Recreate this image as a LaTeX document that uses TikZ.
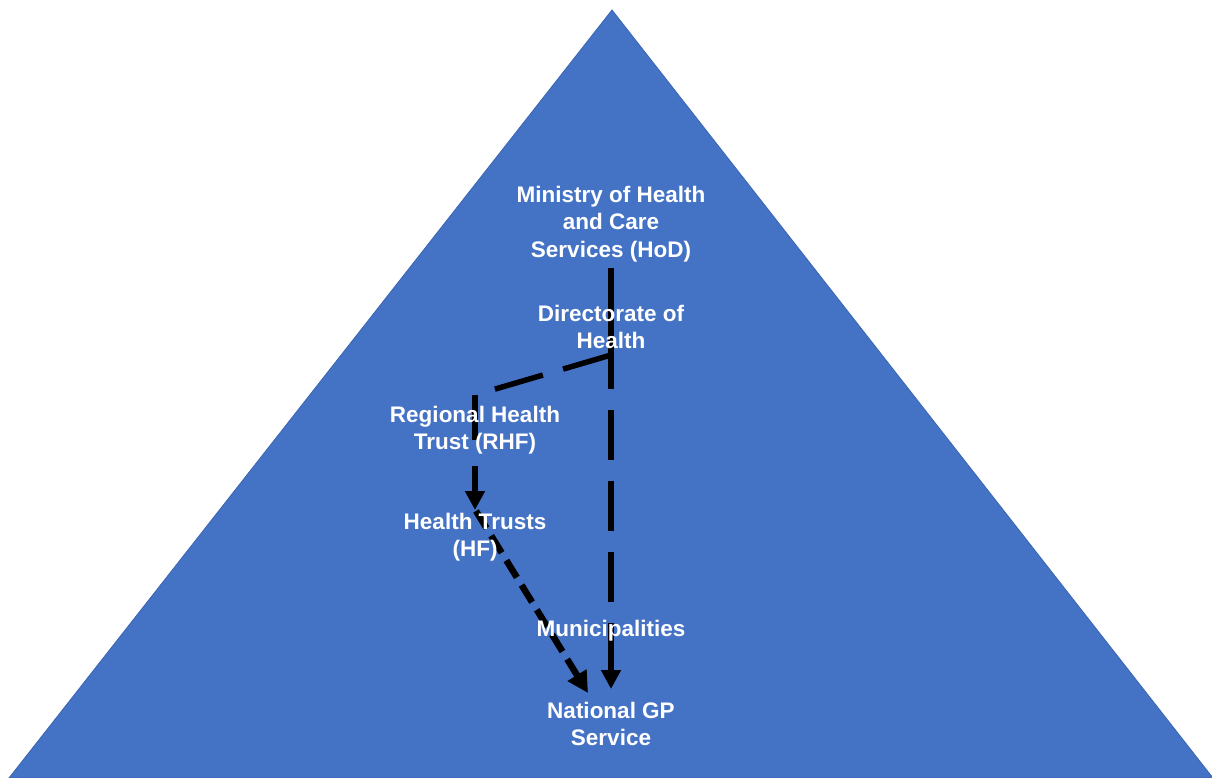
\documentclass[tikz,border=0pt]{standalone}
\usepackage{fontspec}
\setmainfont{Liberation Sans}
\usetikzlibrary{arrows.meta}
\definecolor{triblue}{HTML}{4472C4}
\definecolor{triedge}{HTML}{3B66B4}
\pgfdeclarelayer{bg}
\pgfdeclarelayer{lines}
\pgfsetlayers{bg,lines,main}
\tikzset{
  lbl/.style={text=white, font=\bfseries\fontsize{22.5}{27.5}\selectfont, align=center, inner sep=0pt},
  conn/.style={line width=5.5pt, black, line cap=butt},
  longdash/.style={dash pattern=on 50pt off 21pt},
  shortdash/.style={dash pattern=on 20pt off 9pt},
  bigtip/.style={-{Triangle[width=19pt,length=19pt]}},
}
\begin{document}
\begin{tikzpicture}[x=1pt,y=-1pt]
\useasboundingbox (0,0) rectangle (1212,778);
\begin{pgfonlayer}{bg}
  \fill[triblue, draw=triedge, line width=0.8pt] (612,10) -- (1213,778) -- (9,778) -- cycle;
\end{pgfonlayer}

\node[lbl] (mohcs) at (611,224) {Ministry of Health\\and Care\\Services (HoD)};
\node[lbl] (dir) at (611,327) {Directorate of\\Health};
\node[lbl] (rhf) at (475,430) {Regional Health\\Trust (RHF)};
\node[lbl] (hf) at (475,537) {Health Trusts\\(HF)};
\node[lbl] (mun) at (611,631) {Municipalities};
\node[lbl] (gp) at (611,724) {National GP\\Service};

\coordinate (mohcsout) at (611,268);
\coordinate (dirjunc) at (611,355);
\coordinate (rhfin) at (475,395);
\coordinate (hfin) at (475,510);
\coordinate (hfout) at (476,511);
\coordinate (gpin) at (611,689);
\coordinate (gpin2) at (588,693);

\begin{pgfonlayer}{lines}
  \draw[conn] (mohcsout) -- (dirjunc);
  \draw[conn, longdash, bigtip] (mohcsout) -- (gpin);
  \draw[conn, longdash] (dirjunc) -- (rhfin);
  \draw[conn, dash pattern=on 45pt off 26pt, bigtip] (rhfin) -- (hfin);
  \draw[conn, line width=6.5pt, shortdash, -{Triangle[width=21pt,length=21pt]}] (hfout) -- (gpin2);
\end{pgfonlayer}
\end{tikzpicture}
\end{document}
